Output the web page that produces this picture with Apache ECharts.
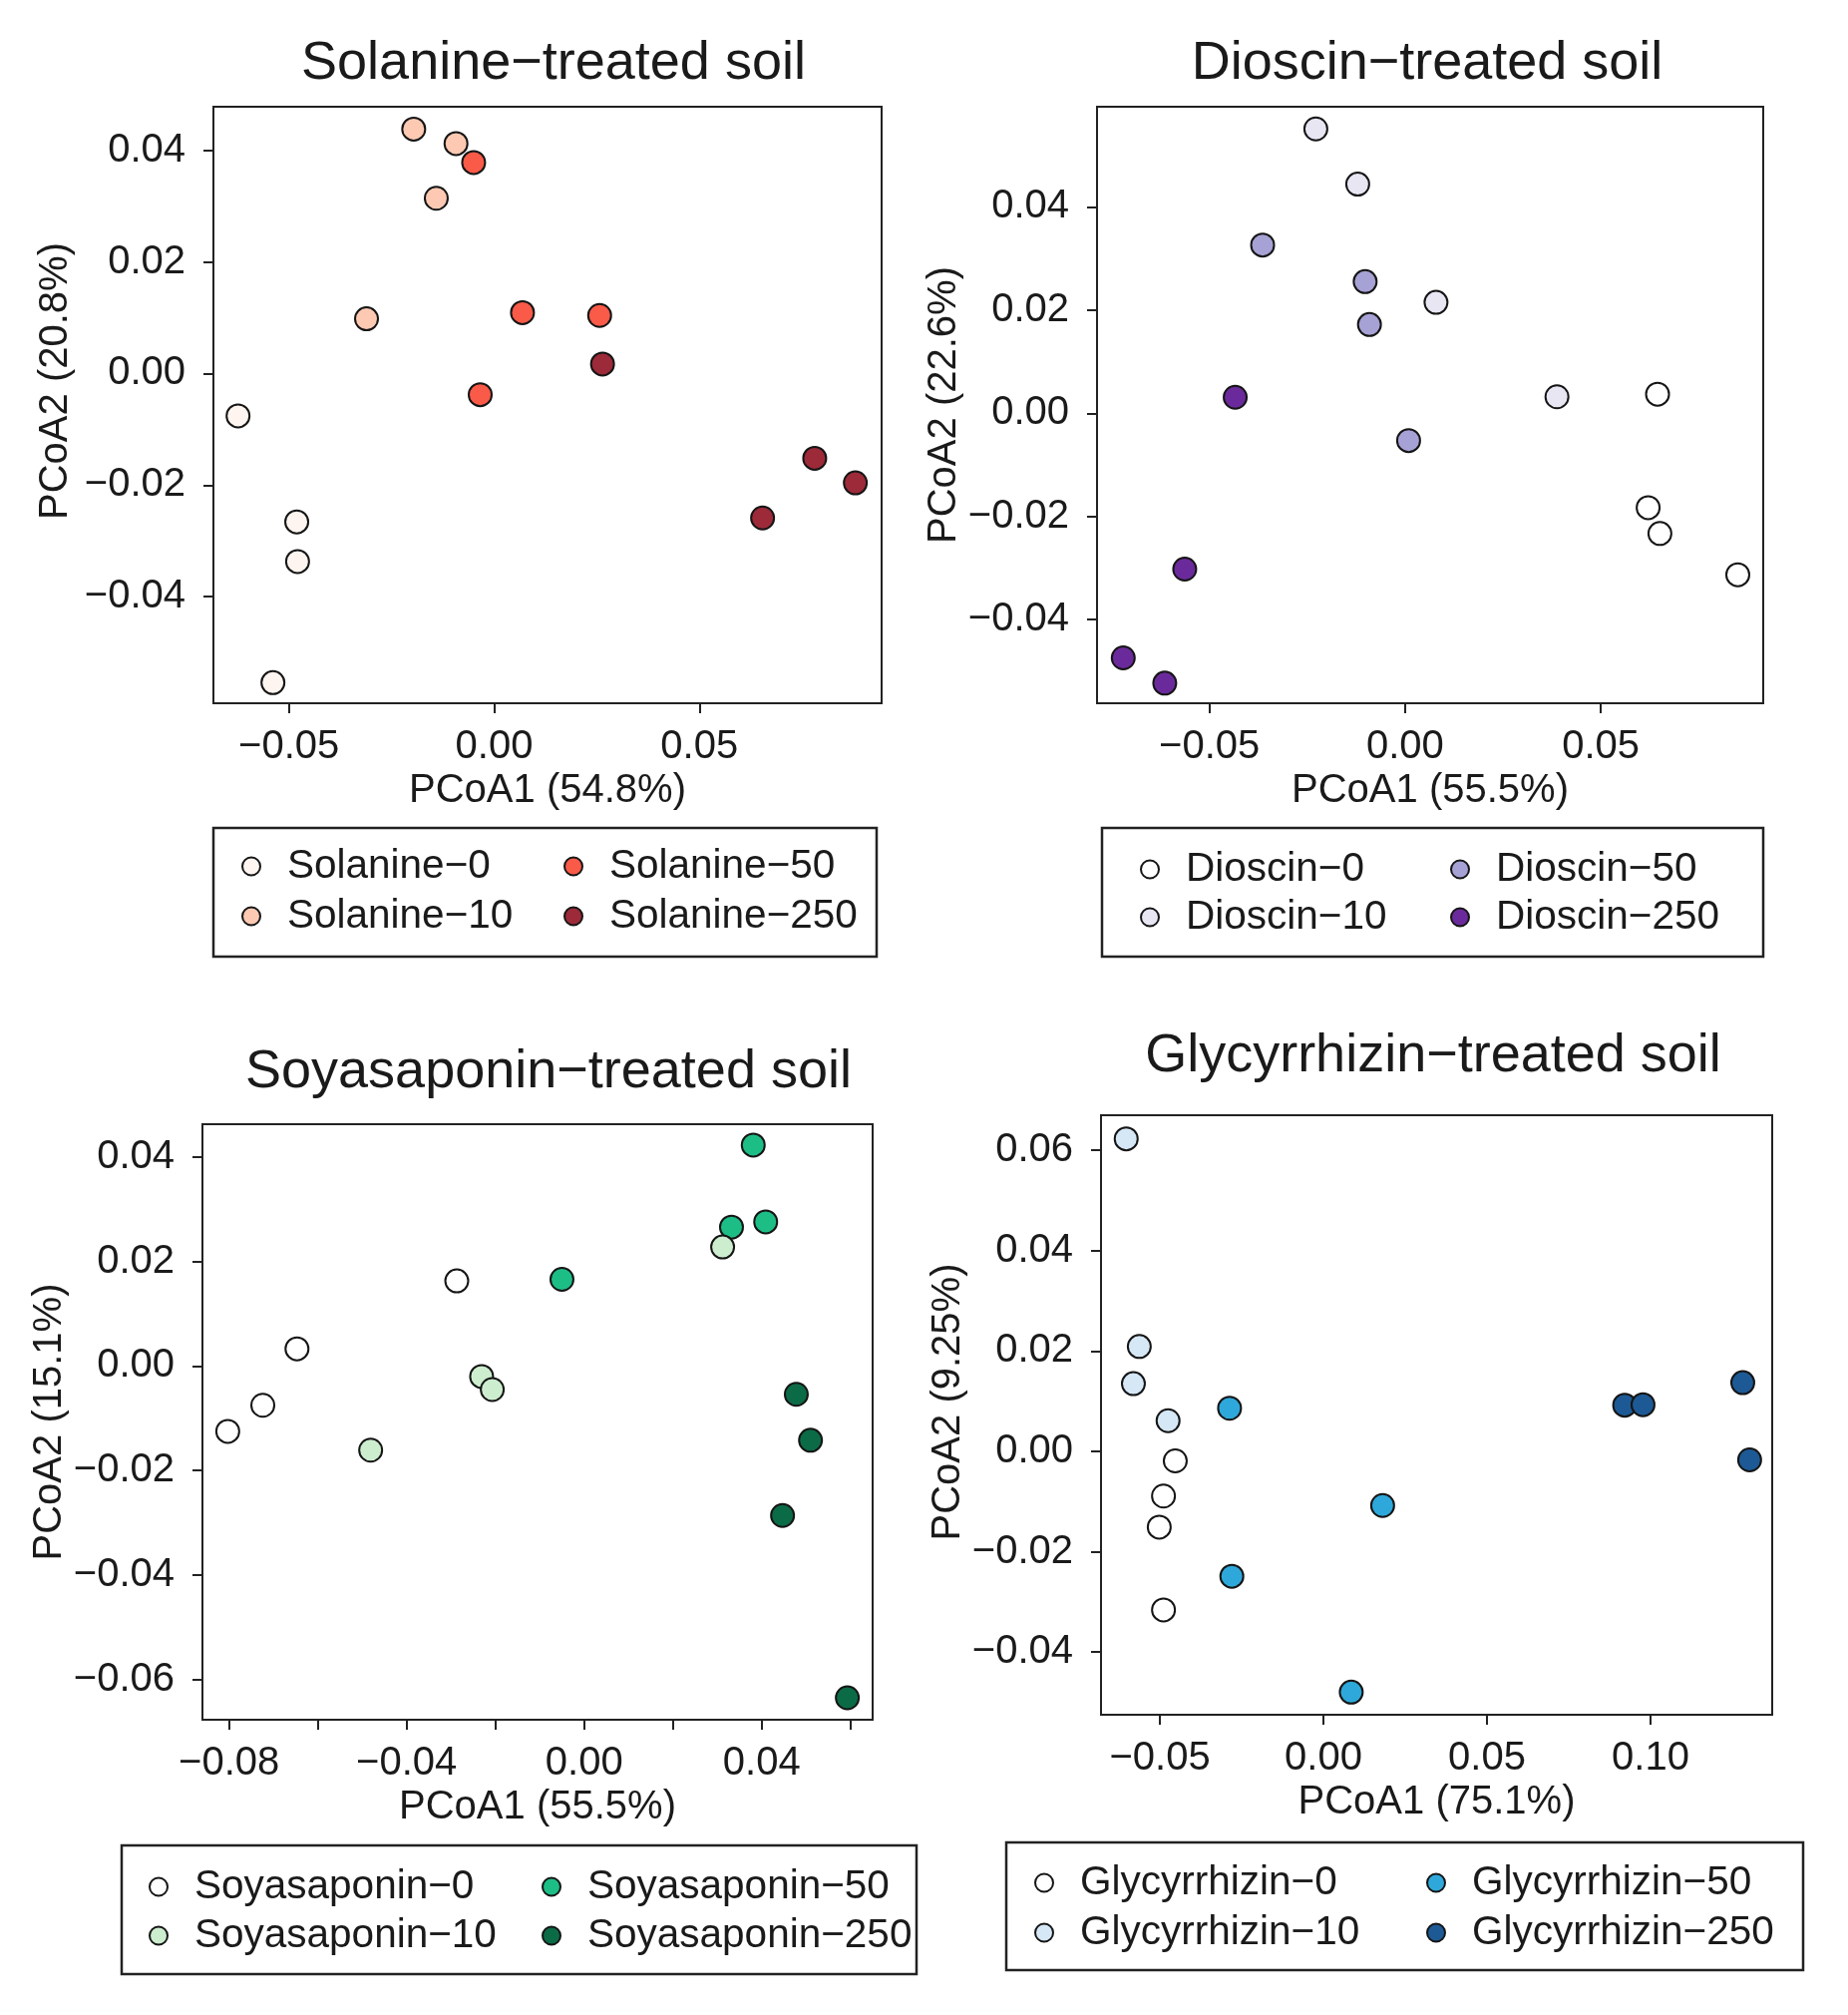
<!DOCTYPE html>
<html>
<head>
<meta charset="utf-8">
<script src="https://cdn.jsdelivr.net/npm/echarts@6/dist/echarts.min.js"></script>
<style>
html,body{margin:0;padding:0;background:#fff;}
#chart{width:1853px;height:2020px;}
</style>
</head>
<body>
<div id="chart"></div>
<script>
// ---------- DATA (PCoA1, PCoA2) ----------
const solanine0   = [[-0.0624,-0.0076],[-0.0481,-0.0266],[-0.0479,-0.0337],[-0.0539,-0.0554]];
const solanine10  = [[-0.0196,0.0438],[-0.0093,0.0412],[-0.0141,0.0314],[-0.0311,0.0098]];
const solanine50  = [[-0.0050,0.0378],[0.0069,0.0109],[0.0257,0.0104],[-0.0034,-0.0038]];
const solanine250 = [[0.0264,0.0017],[0.0781,-0.0152],[0.0880,-0.0196],[0.0654,-0.0259]];

const dioscin0   = [[0.0645,0.0037],[0.0621,-0.0183],[0.0651,-0.0233],[0.0850,-0.0313]];
const dioscin10  = [[-0.0228,0.0551],[-0.0121,0.0444],[0.0079,0.0215],[0.0388,0.0032]];
const dioscin50  = [[-0.0364,0.0326],[-0.0102,0.0255],[-0.0091,0.0172],[0.0009,-0.0053]];
const dioscin250 = [[-0.0434,0.0031],[-0.0563,-0.0302],[-0.0720,-0.0474],[-0.0614,-0.0523]];

const soya0   = [[-0.0803,-0.0125],[-0.0724,-0.0075],[-0.0647,0.0033],[-0.0287,0.0163]];
const soya10  = [[-0.0481,-0.0161],[-0.0231,-0.0020],[-0.0207,-0.0045],[0.0312,0.0228]];
const soya50  = [[-0.0050,0.0166],[0.0332,0.0266],[0.0381,0.0423],[0.0409,0.0276]];
const soya250 = [[0.0478,-0.0054],[0.0510,-0.0142],[0.0447,-0.0286],[0.0593,-0.0635]];

const glyc0   = [[-0.0453,-0.0019],[-0.0489,-0.0089],[-0.0502,-0.0151],[-0.0489,-0.0316]];
const glyc10  = [[-0.0603,0.0623],[-0.0563,0.0209],[-0.0581,0.0135],[-0.0475,0.0061]];
const glyc50  = [[-0.0287,0.0086],[0.0181,-0.0108],[-0.0280,-0.0249],[0.0085,-0.0480]];
const glyc250 = [[0.0921,0.0092],[0.0977,0.0093],[0.1282,0.0137],[0.1303,-0.0017]];

// ---------- TICKS ----------
const solXTicks = [-0.05, 0.00, 0.05];
const solYTicks = [-0.04, -0.02, 0.00, 0.02, 0.04];
const dioXTicks = [-0.05, 0.00, 0.05];
const dioYTicks = [-0.04, -0.02, 0.00, 0.02, 0.04];
const soyXTicks = [-0.08, -0.06, -0.04, -0.02, 0.00, 0.02, 0.04, 0.06];
const soyXLabels = [-0.08, -0.04, 0.00, 0.04];
const soyYTicks = [-0.06, -0.04, -0.02, 0.00, 0.02, 0.04];
const glyXTicks = [-0.05, 0.00, 0.05, 0.10];
const glyYTicks = [-0.04, -0.02, 0.00, 0.02, 0.04, 0.06];

// ---------- TEXT ----------
const titles = ['Solanine\u2212treated soil','Dioscin\u2212treated soil','Soyasaponin\u2212treated soil','Glycyrrhizin\u2212treated soil'];
const xNames = ['PCoA1 (54.8%)','PCoA1 (55.5%)','PCoA1 (55.5%)','PCoA1 (75.1%)'];
const yNames = ['PCoA2 (20.8%)','PCoA2 (22.6%)','PCoA2 (15.1%)','PCoA2 (9.25%)'];
const doses = ['0','10','50','250'];
const compounds = ['Solanine','Dioscin','Soyasaponin','Glycyrrhizin'];

const palettes = [
  ['#FFF5F0','#FDC9B2','#FA5A48','#9C2A39'],
  ['#FFFFFF','#E8E6F3','#A6A2D5','#6B2A9B'],
  ['#FFFFFF','#CDEDCF','#1DBE86','#0C6B47'],
  ['#FFFFFF','#D6E7F6','#2EA8DB','#1D5A95']
];
const panelData = [
  [solanine0, solanine10, solanine50, solanine250],
  [dioscin0, dioscin10, dioscin50, dioscin250],
  [soya0, soya10, soya50, soya250],
  [glyc0, glyc10, glyc50, glyc250]
];

// ---------- LAYOUT ----------
const FONT = "'Liberation Sans', Arial, Helvetica, sans-serif";
const TXT = '#1a1a1a';
const grids = [
  {left:214, top:107, width:670, height:598},
  {left:1100, top:107, width:668, height:598},
  {left:203, top:1127, width:672, height:597},
  {left:1104, top:1118, width:673, height:601}
];
const ranges = [
  {xmin:-0.0684, xmax:0.0944, ymin:-0.0591, ymax:0.0478},
  {xmin:-0.0787, xmax:0.0915, ymin:-0.0562, ymax:0.0594},
  {xmin:-0.0860, xmax:0.0650, ymin:-0.0677, ymax:0.0463},
  {xmin:-0.0680, xmax:0.1372, ymin:-0.0525, ymax:0.0670}
];
const xTicks = [solXTicks, dioXTicks, soyXTicks, glyXTicks];
const xLabels = [solXTicks, dioXTicks, soyXLabels, glyXTicks];
const yTicks = [solYTicks, dioYTicks, soyYTicks, glyYTicks];
const titlePos = [[550,32],[1426,32],[545,1043],[1432,1027]];
const yNameGap = [138,130,127,128];
const yNameShift = [48,0,0,26];
const legendBoxes = [
  {x:214, y:830, w:665, h:129},
  {x:1105, y:830, w:663, h:129},
  {x:122, y:1850, w:797, h:129},
  {x:1009, y:1847, w:799, h:128}
];
// [col1 symbol x, col1 text x, col2 symbol x, col2 text x, row1 y, row2 y]
const legendPos = [
  [251,287,574,610,868,917],
  [1152,1188,1463,1499,871,918],
  [158,194,552,588,1891,1939],
  [1046,1082,1439,1475,1887,1936]
];

function fmt(v){
  const s = Math.abs(v).toFixed(2);
  return (v < -1e-9 ? '\u2212' : '') + s;
}

const option = {
  backgroundColor:'#ffffff',
  animation:false,
  textStyle:{fontFamily:FONT},
  title:[], grid:[], xAxis:[], yAxis:[], series:[], legend:[], graphic:[]
};

for (let p = 0; p < 4; p++) {
  option.title.push({
    text: titles[p], left: titlePos[p][0], top: titlePos[p][1], textAlign:'center',
    textStyle:{fontSize:54, fontWeight:'normal', color:TXT, fontFamily:FONT}
  });
  option.grid.push(Object.assign({show:true, borderColor:'#222', borderWidth:2, backgroundColor:'transparent'}, grids[p]));
  option.xAxis.push({
    type:'value', gridIndex:p, min:ranges[p].xmin, max:ranges[p].xmax,
    name: xNames[p], nameLocation:'middle', nameGap:68,
    nameTextStyle:{fontSize:40, color:TXT, fontFamily:FONT},
    axisLine:{show:true, onZero:false, lineStyle:{color:'#222', width:2}},
    axisTick:{show:true, inside:false, length:10, lineStyle:{color:'#222', width:2}, customValues:xTicks[p]},
    axisLabel:{fontSize:40, color:TXT, margin:24, fontFamily:FONT, customValues:xLabels[p], formatter:fmt},
    splitLine:{show:false}
  });
  option.yAxis.push({
    type:'value', gridIndex:p, min:ranges[p].ymin, max:ranges[p].ymax,
    name: yNames[p], nameLocation:'middle', nameGap:yNameGap[p], nameRotate:90,
    nameTextStyle:{fontSize:40, color:TXT, fontFamily:FONT, padding:[0,0,0,yNameShift[p]]},
    axisLine:{show:true, onZero:false, lineStyle:{color:'#222', width:2}},
    axisTick:{show:true, inside:false, length:10, lineStyle:{color:'#222', width:2}, customValues:yTicks[p]},
    axisLabel:{fontSize:40, color:TXT, margin:28, fontFamily:FONT, customValues:yTicks[p], formatter:fmt},
    splitLine:{show:false}
  });
  const order = (p === 2) ? [0,2,1,3] : [0,1,2,3];
  order.forEach(function(g){
    option.series.push({
      type:'scatter', name: compounds[p] + '\u2212' + doses[g],
      xAxisIndex:p, yAxisIndex:p, data: panelData[p][g],
      symbol:'circle', symbolSize:23,
      itemStyle:{color:palettes[p][g], borderColor:'#151515', borderWidth:2, opacity:1},
      emphasis:{disabled:true}
    });
  });
  const lp = legendPos[p];
  const names = doses.map(function(d){ return compounds[p] + '\u2212' + d; });
  const iconSize = 18;
  [[0,1],[2,3]].forEach(function(pair, c){
    const symX = c === 0 ? lp[0] : lp[2];
    const txtX = c === 0 ? lp[1] : lp[3];
    const lineH = 40;
    option.legend.push({
      orient:'vertical', left: symX - iconSize/2, top: lp[4] - lineH/2,
      padding:0, itemGap: (lp[5]-lp[4]) - lineH,
      itemWidth: iconSize, itemHeight: iconSize, icon:'circle',
      selectedMode:false,
      itemStyle:{borderColor:'#151515', borderWidth:2},
      textStyle:{fontSize:40.5, lineHeight:lineH, color:TXT, fontFamily:FONT,
                 padding:[0,0,0, txtX - (symX - iconSize/2) - iconSize - 5]},
      data: [names[pair[0]], names[pair[1]]]
    });
  });
  const b = legendBoxes[p];
  option.graphic.push({
    type:'rect', shape:{x:b.x, y:b.y, width:b.w, height:b.h},
    style:{fill:'none', stroke:'#222', lineWidth:2.5}, silent:true
  });
}

const chart = echarts.init(document.getElementById('chart'), null, {renderer:'canvas'});
chart.setOption(option);
</script>
</body>
</html>
